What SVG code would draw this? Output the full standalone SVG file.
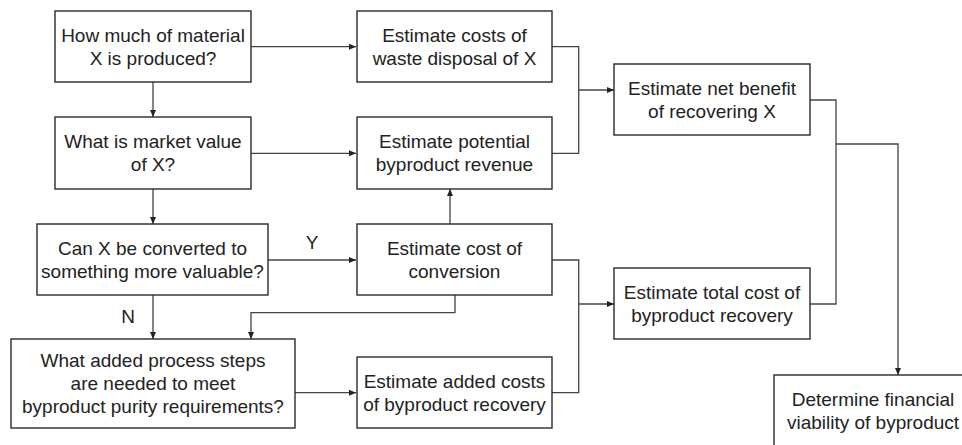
<svg xmlns="http://www.w3.org/2000/svg" width="962" height="445" viewBox="0 0 962 445">
<style>
.box{fill:#fff;stroke:#2a2a2a;stroke-width:1.4}
.t{font-family:"Liberation Sans",Arial,sans-serif;font-size:19px;fill:#222;text-anchor:middle}
.c{fill:none;stroke:#444;stroke-width:1.3}
</style>
<defs>
<marker id="ah" markerUnits="userSpaceOnUse" markerWidth="8" markerHeight="6" refX="7" refY="3" orient="auto">
<path d="M0,0 L7,3 L0,6 Z" fill="#222"/>
</marker>
</defs>
<rect width="962" height="445" fill="#fff"/>
<g id="connectors">
<path class="c" d="M251,46.7 H356" marker-end="url(#ah)"/>
<path class="c" d="M153,82 V117" marker-end="url(#ah)"/>
<path class="c" d="M251,153.3 H356" marker-end="url(#ah)"/>
<path class="c" d="M153,189 V224" marker-end="url(#ah)"/>
<path class="c" d="M268,260 H356" marker-end="url(#ah)"/>
<path class="c" d="M450,224 V189" marker-end="url(#ah)"/>
<path class="c" d="M153,295 V339" marker-end="url(#ah)"/>
<path class="c" d="M455,295 V312.7 H251 V339" marker-end="url(#ah)"/>
<path class="c" d="M295,392.7 H356" marker-end="url(#ah)"/>
<path class="c" d="M552,46.7 H578.7 V153.3 H552"/>
<path class="c" d="M578.7,90 H614" marker-end="url(#ah)"/>
<path class="c" d="M552,260 H578.7 V392.7 H552"/>
<path class="c" d="M578.7,304 H614" marker-end="url(#ah)"/>
<path class="c" d="M810,100 H836 V304 H810"/>
<path class="c" d="M836,144 H898 V375" marker-end="url(#ah)"/>
<text class="t" x="312" y="249">Y</text>
<text class="t" x="128" y="323">N</text>
</g>
<g id="n1"><rect class="box" x="55" y="11" width="196" height="71"/>
<text class="t" x="153" y="42">How much of material</text><text class="t" x="153" y="65">X is produced?</text></g>
<g id="n2"><rect class="box" x="55" y="117" width="196" height="72"/>
<text class="t" x="153" y="148">What is market value</text><text class="t" x="153" y="171">of X?</text></g>
<g id="n3"><rect class="box" x="37" y="224" width="231" height="71"/>
<text class="t" x="152.5" y="255">Can X be converted to</text><text class="t" x="152.5" y="278">something more valuable?</text></g>
<g id="n4"><rect class="box" x="11" y="339" width="284" height="89"/>
<text class="t" x="153" y="367">What added process steps</text><text class="t" x="153" y="390">are needed to meet</text><text class="t" x="153" y="413">byproduct purity requirements?</text></g>
<g id="n5"><rect class="box" x="357" y="11" width="195" height="71"/>
<text class="t" x="454.5" y="42">Estimate costs of</text><text class="t" x="454.5" y="65">waste disposal of X</text></g>
<g id="n6"><rect class="box" x="357" y="117" width="195" height="72"/>
<text class="t" x="454.5" y="148">Estimate potential</text><text class="t" x="454.5" y="171">byproduct revenue</text></g>
<g id="n7"><rect class="box" x="357" y="224" width="195" height="71"/>
<text class="t" x="454.5" y="255">Estimate cost of</text><text class="t" x="454.5" y="278">conversion</text></g>
<g id="n8"><rect class="box" x="357" y="357" width="195" height="71"/>
<text class="t" x="454.5" y="388">Estimate added costs</text><text class="t" x="454.5" y="411">of byproduct recovery</text></g>
<g id="n9"><rect class="box" x="614" y="64" width="196" height="71"/>
<text class="t" x="712" y="95">Estimate net benefit</text><text class="t" x="712" y="118">of recovering X</text></g>
<g id="n10"><rect class="box" x="614" y="268" width="196" height="71"/>
<text class="t" x="712" y="299">Estimate total cost of</text><text class="t" x="712" y="322">byproduct recovery</text></g>
<g id="n11"><rect class="box" x="774" y="375" width="198" height="72"/>
<text class="t" x="873" y="406">Determine financial</text><text class="t" x="873" y="429">viability of byproduct</text></g>
</svg>
